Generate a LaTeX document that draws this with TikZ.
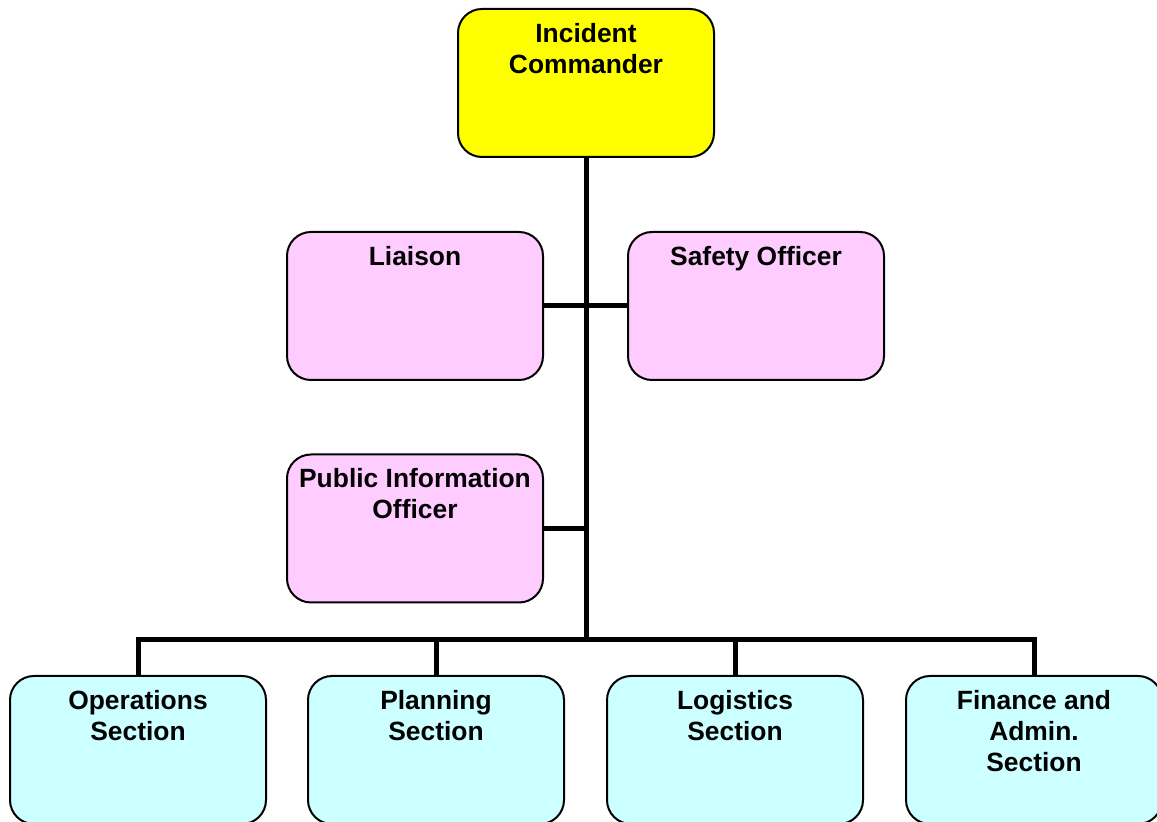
\documentclass[tikz,border=0pt]{standalone}
\usepackage{fontspec}
\setmainfont{Liberation Sans}
\definecolor{icyellow}{HTML}{FFFF00}
\definecolor{staffpink}{HTML}{FFCCFF}
\definecolor{sectcyan}{HTML}{CCFFFF}
\tikzset{
  unit/.style={draw, line width=1pt, rounded corners=12pt,
    minimum width=128pt, minimum height=74pt},
  caption/.style={anchor=north, align=center, inner sep=0pt, yshift=-7.3pt,
    font=\fontsize{13.2pt}{15.6pt}\selectfont\bfseries},
  wire/.style={line width=2.5pt, line join=miter}
}
\begin{document}
\begin{tikzpicture}[x=0.5pt, y=-0.5pt]
  \useasboundingbox (0,0) rectangle (1157,822);

  % command
  \node[unit, fill=icyellow] (ic) at (586,83) {};
     \node[caption] (ic-t) at (ic.north) {Incident\\Commander};

  % command staff
  \node[unit, fill=staffpink] (liaison) at (415,306) {};
     \node[caption] (liaison-t) at (liaison.north) {Liaison};
  \node[unit, fill=staffpink] (safety) at (756,306) {};
     \node[caption] (safety-t) at (safety.north) {Safety Officer};
  \node[unit, fill=staffpink] (pio) at (415,528.5) {};
     \node[caption] (pio-t) at (pio.north) {Public Information\\Officer};

  % general staff
  \node[unit, fill=sectcyan] (ops) at (138,750) {};
     \node[caption] (ops-t) at (ops.north) {Operations\\Section};
  \node[unit, fill=sectcyan] (plan) at (436,750) {};
     \node[caption] (plan-t) at (plan.north) {Planning\\Section};
  \node[unit, fill=sectcyan] (logs) at (735,750) {};
     \node[caption] (logs-t) at (logs.north) {Logistics\\Section};
  \node[unit, fill=sectcyan] (fin) at (1034,750) {};
     \node[caption] (fin-t) at (fin.north) {Finance and\\Admin.\\Section};

  % connectors
  \coordinate (bus) at (586,640);
  \draw[wire] (ic.south) -- (bus);
  \draw[wire] (liaison.east) -- (safety.west);
  \draw[wire] (pio.east) -- (pio.east -| ic.south);
  \draw[wire] (ops.north) -- (ops.north |- bus) -- (fin.north |- bus) -- (fin.north);
  \draw[wire] (plan.north) -- (plan.north |- bus);
  \draw[wire] (logs.north) -- (logs.north |- bus);

\end{tikzpicture}
\end{document}
